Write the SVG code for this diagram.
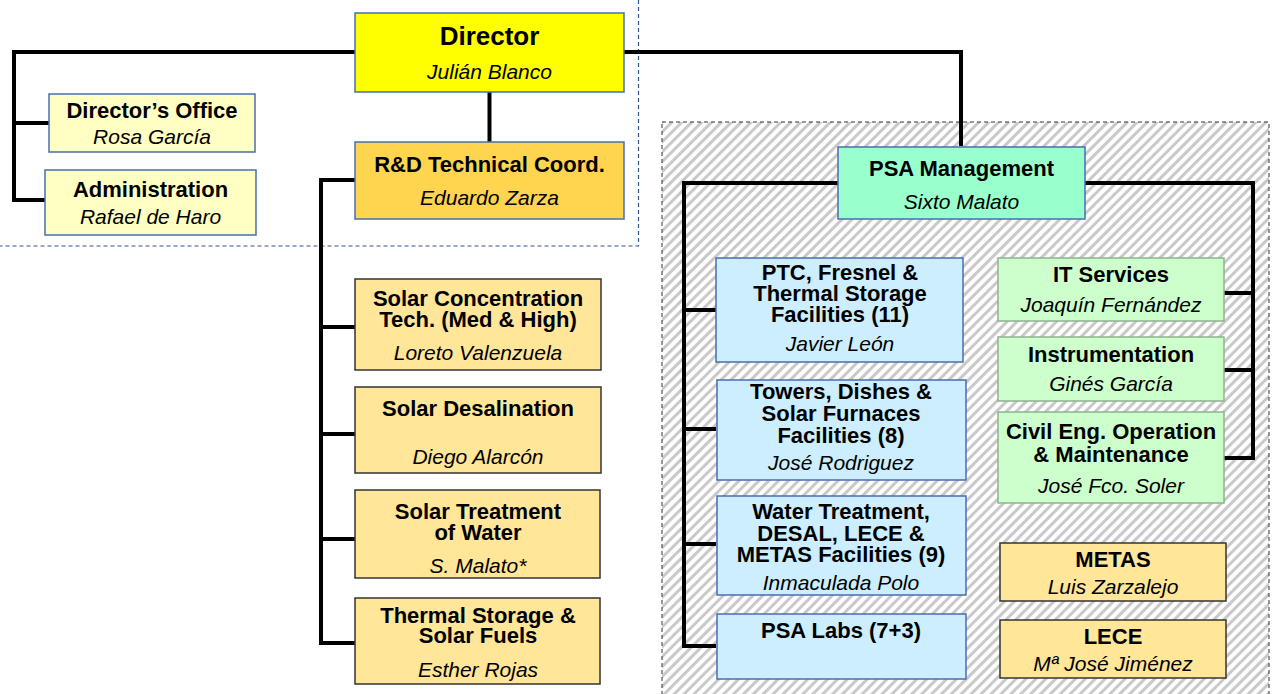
<svg xmlns="http://www.w3.org/2000/svg" width="1272" height="694" viewBox="0 0 1272 694">
<defs>
<pattern id="hatch" width="7" height="7" patternUnits="userSpaceOnUse" patternTransform="rotate(45)">
<rect width="7" height="7" fill="#ffffff"/>
<line x1="1.5" y1="0" x2="1.5" y2="7" stroke="#c9c9c9" stroke-width="3"/>
</pattern>
<style>
.t{font-family:"Liberation Sans",Arial,sans-serif;font-weight:bold;font-size:22px;fill:#000;text-anchor:middle}
.n{font-family:"Liberation Sans",Arial,sans-serif;font-style:italic;font-size:21px;fill:#000;text-anchor:middle}
.big{font-size:26px}
.conn{fill:none;stroke:#000;stroke-width:4;stroke-linejoin:miter}
.bl{stroke:#4a6db0;stroke-width:1.5}
.dk{stroke:#333;stroke-width:1.5}
.gr{stroke:#8db48d;stroke-width:1.5}
</style>
</defs>
<rect width="1272" height="694" fill="#ffffff"/>
<g id="psa-area">
<rect x="662" y="122" width="607" height="600" fill="url(#hatch)" stroke="#333" stroke-width="1" stroke-dasharray="4,3"/>
</g>
<g id="director-area">
<path d="M638.5,0 V246 H0" fill="none" stroke="#2f5597" stroke-width="1.2" stroke-dasharray="4,3"/>
</g>
<g id="connectors">
<path class="conn" d="M355,52 H14 V200 H45"/>
<path class="conn" d="M14,123 H49"/>
<path class="conn" d="M489.5,92 V142"/>
<path class="conn" d="M355,180 H321 V643 H355"/>
<path class="conn" d="M321,327 H355 M321,434 H355 M321,539 H355"/>
<path class="conn" d="M624,52 H961 V146"/>
<path class="conn" d="M838,183 H684 V646 H716"/>
<path class="conn" d="M684,310 H716 M684,429 H716 M684,544 H716"/>
<path class="conn" d="M1085,183 H1253 V458 H1224"/>
<path class="conn" d="M1224,293 H1253 M1224,370 H1253"/>
</g>
<g id="director">
<rect x="355" y="13" width="269" height="79" fill="#ffff00" class="bl"/>
<text class="t big" x="489.5" y="45">Director</text>
<text class="n" x="489.5" y="79">Julián Blanco</text>
</g>
<g id="directors-office">
<rect x="49" y="94" width="206" height="58" fill="#ffffc4" class="bl"/>
<text class="t" x="152" y="118">Director’s Office</text>
<text class="n" x="152" y="144">Rosa García</text>
</g>
<g id="administration">
<rect x="45" y="170" width="211" height="65" fill="#ffffc4" class="bl"/>
<text class="t" x="150.5" y="197">Administration</text>
<text class="n" x="150.5" y="224">Rafael de Haro</text>
</g>
<g id="rd-coord">
<rect x="355" y="142" width="269" height="77" fill="#ffd44f" class="bl"/>
<text class="t" x="489.5" y="172">R&amp;D Technical Coord.</text>
<text class="n" x="489.5" y="205">Eduardo Zarza</text>
</g>
<g id="solar-concentration">
<rect x="355" y="279" width="246" height="91" fill="#ffe699" class="dk"/>
<text class="t" x="478" y="306">Solar Concentration</text>
<text class="t" x="478" y="327">Tech. (Med &amp; High)</text>
<text class="n" x="478" y="360">Loreto Valenzuela</text>
</g>
<g id="solar-desalination">
<rect x="355" y="387" width="246" height="86" fill="#ffe699" class="dk"/>
<text class="t" x="478" y="416">Solar Desalination</text>
<text class="n" x="478" y="464">Diego Alarcón</text>
</g>
<g id="solar-treatment">
<rect x="355" y="490" width="245" height="88" fill="#ffe699" class="dk"/>
<text class="t" x="478" y="519">Solar Treatment</text>
<text class="t" x="478" y="540">of Water</text>
<text class="n" x="478" y="573">S. Malato*</text>
</g>
<g id="thermal-storage">
<rect x="355" y="598" width="245" height="86" fill="#ffe699" class="dk"/>
<text class="t" x="478" y="623">Thermal Storage &amp;</text>
<text class="t" x="478" y="643">Solar Fuels</text>
<text class="n" x="478" y="677">Esther Rojas</text>
</g>
<g id="psa-management">
<rect x="838" y="147" width="247" height="72" fill="#99ffcc" class="bl"/>
<text class="t" x="961.5" y="176">PSA Management</text>
<text class="n" x="961.5" y="209">Sixto Malato</text>
</g>
<g id="ptc-facilities">
<rect x="716" y="258" width="247" height="104" fill="#cceeff" class="bl"/>
<text class="t" x="840" y="280">PTC, Fresnel &amp;</text>
<text class="t" x="840" y="301">Thermal Storage</text>
<text class="t" x="840" y="322">Facilities (11)</text>
<text class="n" x="840" y="351">Javier León</text>
</g>
<g id="towers-facilities">
<rect x="717" y="380" width="249" height="100" fill="#cceeff" class="bl"/>
<text class="t" x="841" y="399">Towers, Dishes &amp;</text>
<text class="t" x="841" y="421">Solar Furnaces</text>
<text class="t" x="841" y="443">Facilities (8)</text>
<text class="n" x="841" y="470">José Rodriguez</text>
</g>
<g id="water-facilities">
<rect x="717" y="496" width="249" height="99" fill="#cceeff" class="bl"/>
<text class="t" x="841" y="519">Water Treatment,</text>
<text class="t" x="841" y="541">DESAL, LECE &amp;</text>
<text class="t" x="841" y="562">METAS Facilities (9)</text>
<text class="n" x="841" y="590">Inmaculada Polo</text>
</g>
<g id="psa-labs">
<rect x="717" y="614" width="249" height="65" fill="#cceeff" class="bl"/>
<text class="t" x="841" y="638">PSA Labs (7+3)</text>
</g>
<g id="it-services">
<rect x="998" y="258" width="226" height="63" fill="#ccffcc" class="gr"/>
<text class="t" x="1111" y="282">IT Services</text>
<text class="n" x="1111" y="312">Joaquín Fernández</text>
</g>
<g id="instrumentation">
<rect x="998" y="337" width="226" height="64" fill="#ccffcc" class="gr"/>
<text class="t" x="1111" y="362">Instrumentation</text>
<text class="n" x="1111" y="391">Ginés García</text>
</g>
<g id="civil-eng">
<rect x="998" y="412" width="226" height="91" fill="#ccffcc" class="gr"/>
<text class="t" x="1111" y="439">Civil Eng. Operation</text>
<text class="t" x="1111" y="462">&amp; Maintenance</text>
<text class="n" x="1111" y="493">José Fco. Soler</text>
</g>
<g id="metas">
<rect x="1000" y="543" width="226" height="58" fill="#ffe699" class="dk"/>
<text class="t" x="1113" y="567">METAS</text>
<text class="n" x="1113" y="594">Luis Zarzalejo</text>
</g>
<g id="lece">
<rect x="1000" y="620" width="226" height="58" fill="#ffe699" class="dk"/>
<text class="t" x="1113" y="644">LECE</text>
<text class="n" x="1113" y="671">Mª José Jiménez</text>
</g>
</svg>
